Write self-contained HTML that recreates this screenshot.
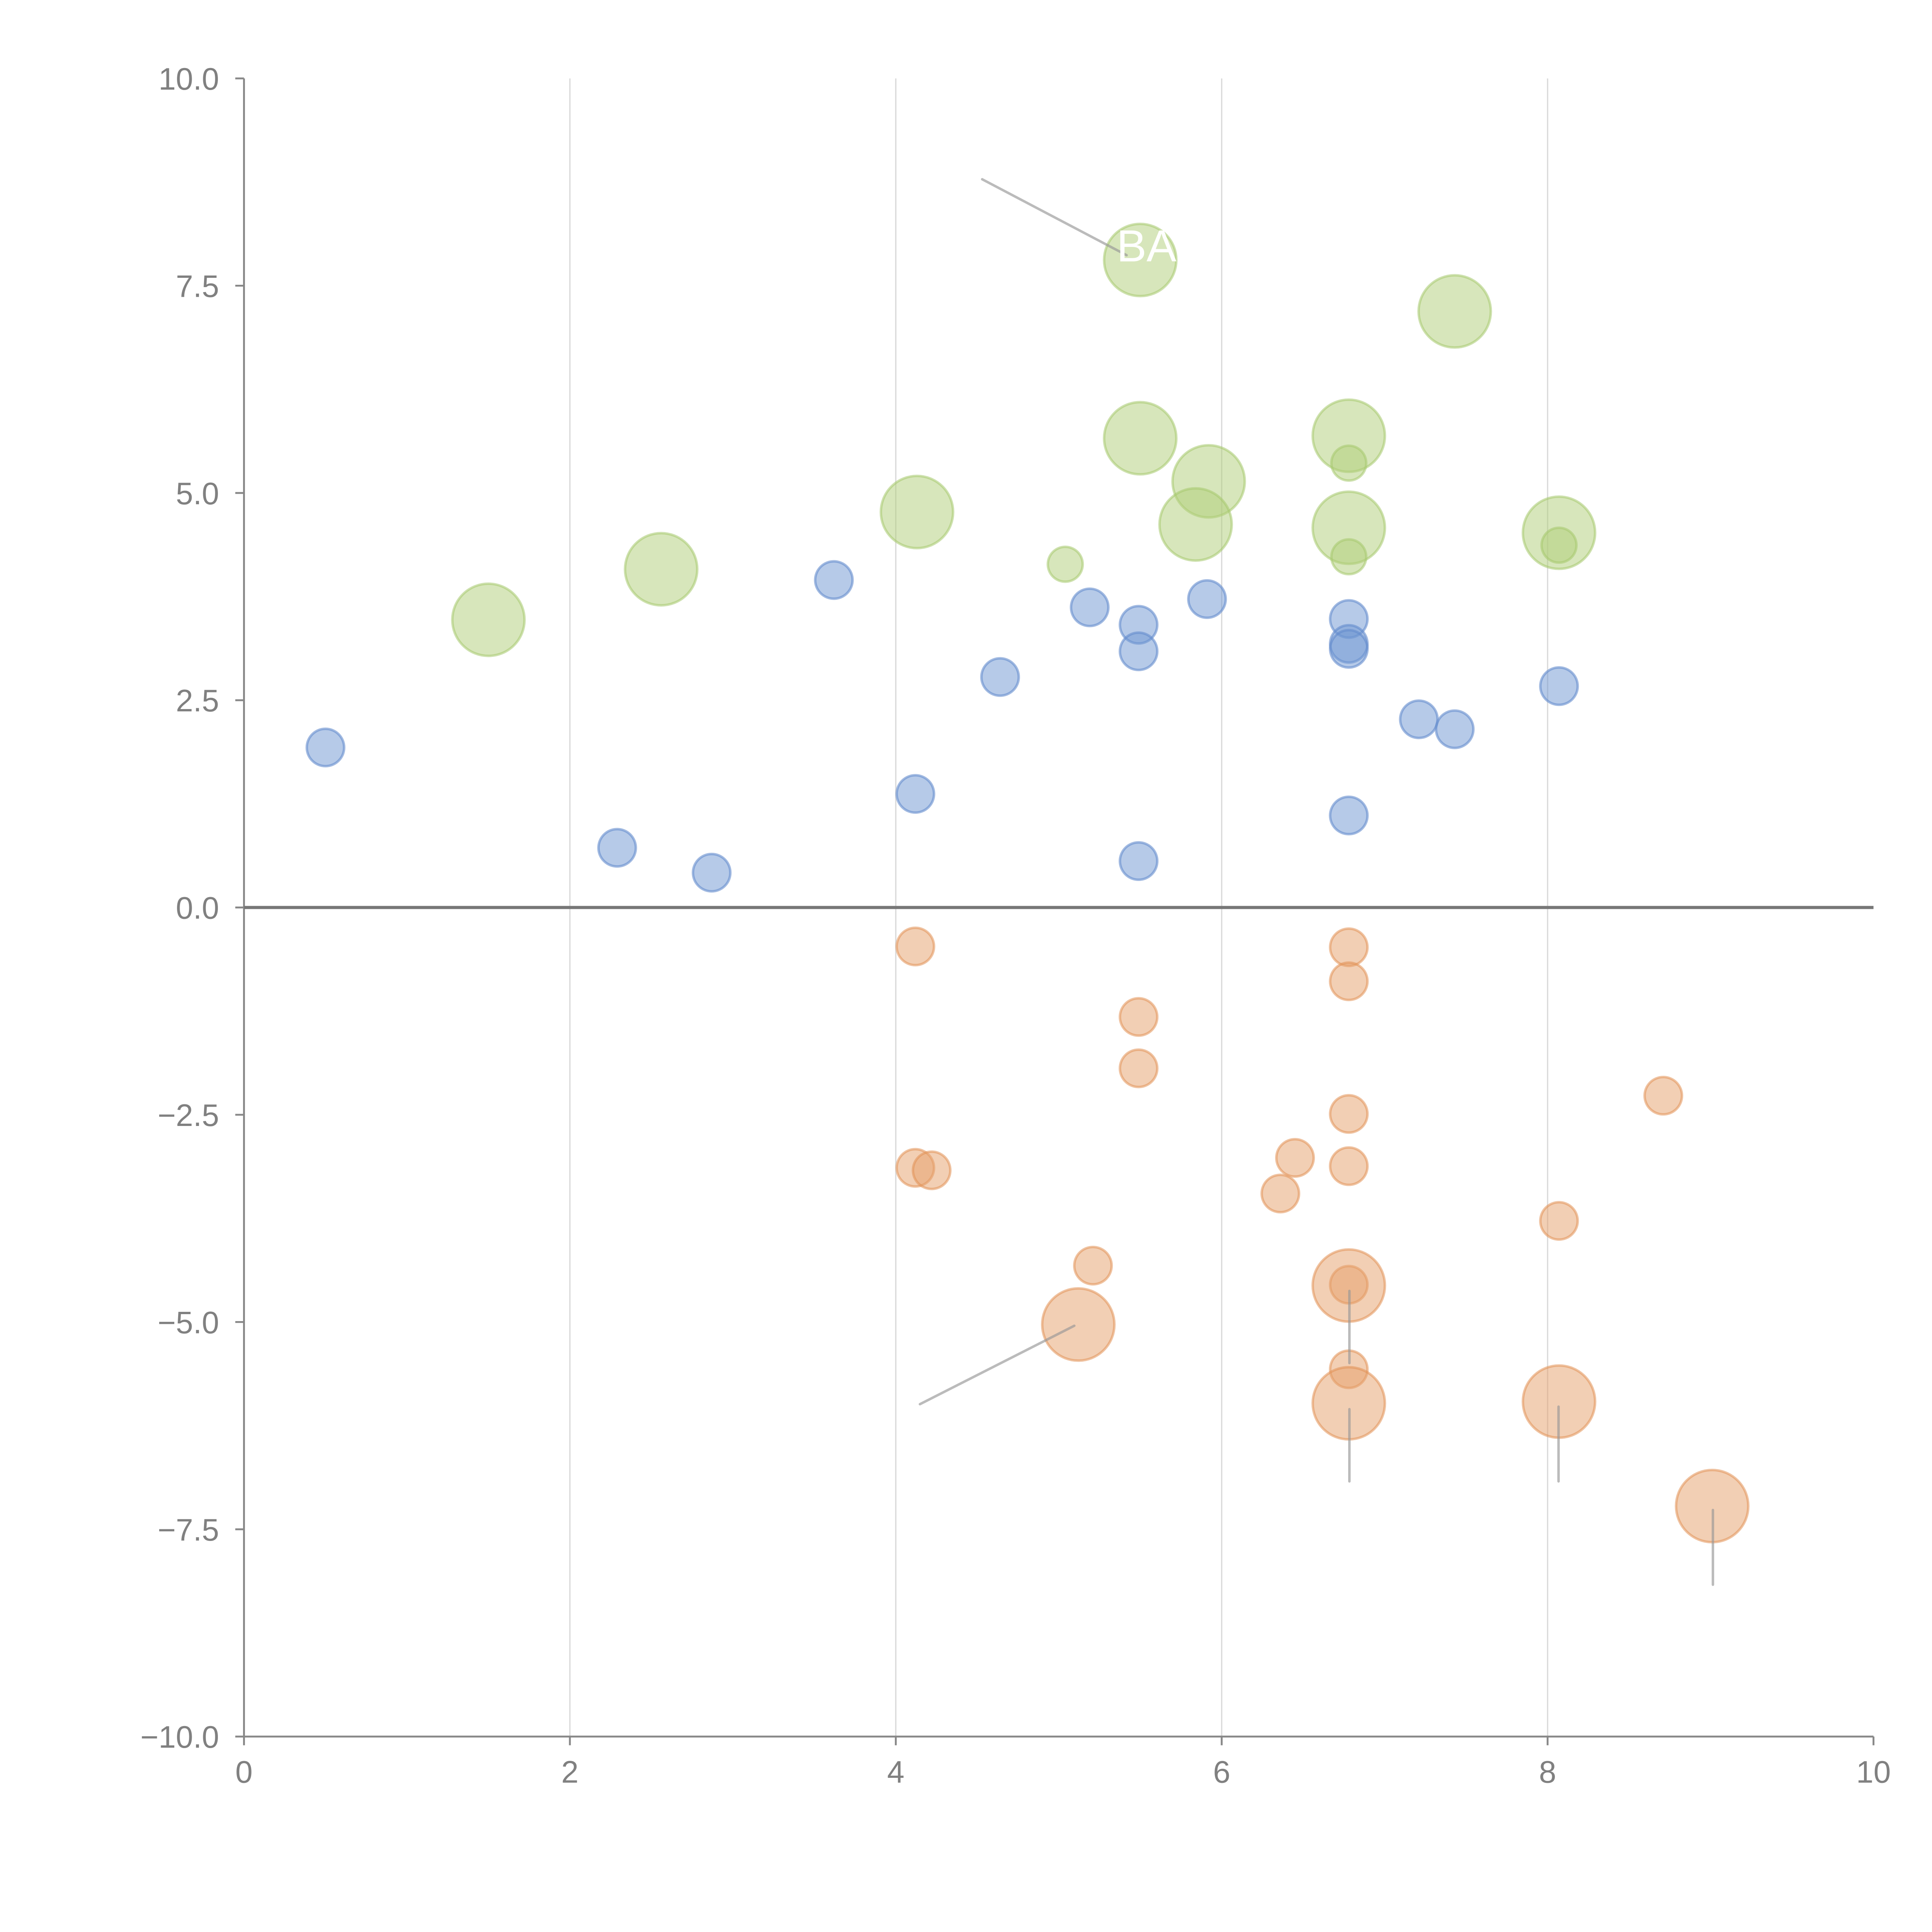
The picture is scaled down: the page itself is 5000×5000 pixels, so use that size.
<!DOCTYPE html>
<html><head><meta charset="utf-8"><style>html,body{margin:0;padding:0;background:#fff}svg{display:block}</style></head>
<body>
<svg id="chart" width="5000" height="5000" viewBox="0 0 1552 1552" xmlns="http://www.w3.org/2000/svg" font-family="'Liberation Sans', sans-serif">
<g id="grid"></g>
<g id="axes"></g>
<g id="marks"></g>
<g id="notes"></g>
</svg>
<script>
const xTicks = [0, 2, 4, 6, 8, 10];
const yTicks = [-10, -7.5, -5, -2.5, 0, 2.5, 5, 7.5, 10];
const blueX = [0.5, 2.29, 2.87, 3.62, 4.12, 4.64, 5.19, 5.49, 5.49, 5.49, 5.91, 6.78, 6.78, 6.78, 6.78, 7.21, 7.43, 8.07];
const blueY = [1.93, 0.72, 0.42, 3.95, 1.37, 2.78, 3.62, 3.41, 3.09, 0.56, 3.72, 3.48, 3.18, 3.12, 1.11, 2.27, 2.15, 2.67];
const orangeSmallX = [4.12, 4.12, 4.22, 5.21, 5.49, 5.49, 6.36, 6.45, 6.78, 6.78, 6.78, 6.78, 6.78, 6.78, 8.07, 8.71];
const orangeSmallY = [-0.47, -3.14, -3.17, -4.32, -1.32, -1.94, -3.45, -3.02, -0.48, -0.89, -2.49, -3.12, -4.55, -5.57, -3.78, -2.27];
const orangeBigX = [5.12, 6.78, 6.78, 8.07, 9.01];
const orangeBigY = [-5.03, -4.56, -5.98, -5.96, -7.22];
const greenBigX = [1.5, 2.56, 4.13, 5.5, 5.5, 5.92, 5.84, 6.78, 6.78, 7.43, 8.07];
const greenBigY = [3.47, 4.08, 4.77, 7.81, 5.66, 5.14, 4.62, 5.69, 4.58, 7.19, 4.52];
const greenSmallX = [5.04, 6.78, 6.78, 8.07];
const greenSmallY = [4.14, 5.36, 4.23, 4.37];

const X0 = 196, X1 = 1505, Y0 = 1395, Y1 = 63;
const sx = v => X0 + (v - 0) / 10 * (X1 - X0);
const sy = v => Y0 - (v + 10) / 20 * (Y0 - Y1);
const NS = 'http://www.w3.org/2000/svg';
function mk(tag, attrs, parent) {
  const e = document.createElementNS(NS, tag);
  for (const k in attrs) e.setAttribute(k, attrs[k]);
  parent.appendChild(e);
  return e;
}
const grid = document.getElementById('grid');
const axes = document.getElementById('axes');
const marks = document.getElementById('marks');
const notes = document.getElementById('notes');

xTicks.forEach(t => {
  if (t > 0 && t < 10) {
    const g = mk('line', {x1: sx(t), x2: sx(t), y1: Y1, y2: Y0, stroke: '#d9d9d9', 'stroke-width': 1}, grid);
    
    
  }
  const tk = mk('line', {x1: sx(t), x2: sx(t), y1: Y0, y2: Y0 + 7, stroke: '#888', 'stroke-width': 1.5}, axes);
  
  
  const lb = mk('text', {x: sx(t), y: Y0 + 37, 'text-anchor': 'middle', 'font-size': 25, fill: '#808080'}, axes);
  lb.textContent = String(t);
  
  
});
yTicks.forEach(t => {
  const tk = mk('line', {x1: X0 - 7, x2: X0, y1: sy(t), y2: sy(t), stroke: '#888', 'stroke-width': 1.5}, axes);
  
  
  const lb = mk('text', {x: X0 - 20, y: sy(t) + 9, 'text-anchor': 'end', 'font-size': 25, fill: '#808080'}, axes);
  lb.textContent = (t < 0 ? '\u2212' : '') + Math.abs(t).toFixed(1);
  
  
});
const ya = mk('line', {x1: X0, x2: X0, y1: Y1, y2: Y0, stroke: '#888', 'stroke-width': 1.5}, axes);


const xa = mk('line', {x1: X0, x2: X1, y1: Y0, y2: Y0, stroke: '#888', 'stroke-width': 1.5}, axes);


const zl = mk('line', {x1: X0, x2: X1, y1: sy(0), y2: sy(0), stroke: '#777', 'stroke-width': 2.5}, axes);



function series(xs, ys, r, fill, stroke, name) {
  xs.forEach((x, i) => {
    const c = mk('circle', {cx: sx(x), cy: sy(ys[i]), r: r, fill: fill, stroke: stroke, 'stroke-width': 2}, marks);
    
    
  });
}
series(blueX, blueY, 15, 'rgba(110,150,210,0.5)', 'rgba(100,140,205,0.6)', 'blue-bubble');
series(greenBigX, greenBigY, 29, 'rgba(175,205,120,0.5)', 'rgba(165,200,110,0.55)', 'green-bubble-large');
series(greenSmallX, greenSmallY, 14, 'rgba(175,205,120,0.5)', 'rgba(165,200,110,0.55)', 'green-bubble-small');
series(orangeSmallX, orangeSmallY, 15, 'rgba(230,160,105,0.5)', 'rgba(225,145,85,0.55)', 'orange-bubble-small');
series(orangeBigX, orangeBigY, 29, 'rgba(230,160,105,0.5)', 'rgba(225,145,85,0.55)', 'orange-bubble-large');

const lines = [[789,144,905,205],[739,1128,863,1065],[1084,1037,1084,1095],[1084,1132,1084,1190],[1252,1130,1252,1190],[1376,1213,1376,1273]];
lines.forEach(l => {
  const e = mk('line', {x1: l[0], y1: l[1], x2: l[2], y2: l[3], stroke: 'rgba(150,150,150,0.65)', 'stroke-width': 2, 'stroke-linecap': 'round'}, notes);
  
  
});
const ba = mk('text', {x: 897, y: 210, 'font-size': 36, fill: '#fff'}, notes);
ba.textContent = 'BA';


</script>
</body></html>
